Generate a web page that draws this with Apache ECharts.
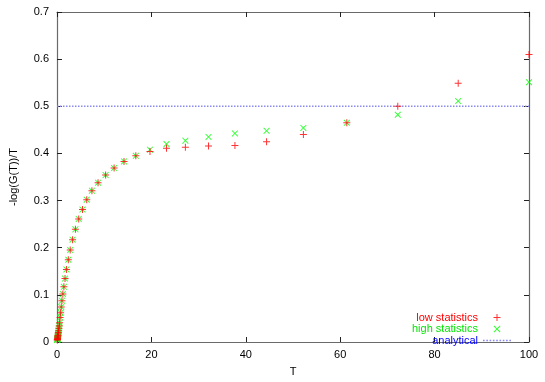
<!DOCTYPE html>
<html><head><meta charset="utf-8">
<script src="https://cdn.jsdelivr.net/npm/echarts@6/dist/echarts.min.js"></script>
<style>html,body{margin:0;padding:0;background:#fff}#c{width:545px;height:382px}</style>
</head><body><div id="c"></div>
<script>
// Data
const T = [100, 85, 72.2, 61.4, 52.2, 44.4, 37.7, 32.1, 27.2, 23.2, 19.7, 16.7, 14.2, 12.1, 10.3, 8.7, 7.4, 6.3, 5.4, 4.6, 3.9, 3.3, 2.8, 2.4, 2.0, 1.7, 1.46, 1.24, 1.05, 0.9, 0.76, 0.65, 0.55, 0.47, 0.40, 0.34, 0.29, 0.24, 0.21, 0.18, 0.15, 0.13, 0.11, 0.09, 0.08, 0.07];
const lowStat = [0.610, 0.549, 0.500, 0.465, 0.440, 0.425, 0.417, 0.4155, 0.413, 0.411, 0.404, 0.395, 0.383, 0.369, 0.354, 0.338, 0.321, 0.302, 0.281, 0.261, 0.239, 0.217, 0.195, 0.1745, 0.154, 0.1346, 0.117, 0.102, 0.0876, 0.0745, 0.062, 0.052, 0.041, 0.034, 0.029, 0.024, 0.020, 0.017, 0.014, 0.012, 0.010, 0.008, 0.007, 0.006, 0.005, 0.004];
const highStat = [0.551, 0.511, 0.482, 0.465, 0.454, 0.448, 0.4425, 0.435, 0.427, 0.420, 0.408, 0.395, 0.383, 0.369, 0.354, 0.338, 0.321, 0.302, 0.281, 0.261, 0.239, 0.217, 0.195, 0.1745, 0.154, 0.1346, 0.117, 0.102, 0.0876, 0.0745, 0.062, 0.052, 0.041, 0.034, 0.029, 0.024, 0.020, 0.017, 0.014, 0.012, 0.010, 0.008, 0.007, 0.006, 0.005, 0.004];
const analyticalValue = 0.5;
const xTicks = [0, 20, 40, 60, 80, 100];
const yTicks = [0, 0.1, 0.2, 0.3, 0.4, 0.5, 0.6, 0.7];
const seriesNames = ['low statistics', 'high statistics', 'analytical'];

const plusPath = 'path://M3,0H4V3H7V4H4V7H3V4H0V3H3Z';
const crossPath = 'path://M0,0.7L0.7,0L3.5,2.8L6.3,0L7,0.7L4.2,3.5L7,6.3L6.3,7L3.5,4.2L0.7,7L0,6.3L2.8,3.5Z';
const dotsPath = 'path://M0,0H1.5V1.5H0ZM3,0H4.5V1.5H3ZM6,0H7.5V1.5H6ZM9,0H10.5V1.5H9ZM12,0H13.5V1.5H12ZM15,0H16.5V1.5H15ZM18,0H19.5V1.5H18ZM21,0H22.5V1.5H21ZM24,0H25.5V1.5H24Z';
const font = 'Liberation Sans, Arial, Helvetica, sans-serif';
const axisCol = '#6a6a6a';

const xMin = xTicks[0], xMax = xTicks[xTicks.length - 1], xInt = xTicks[1] - xTicks[0];
const yMin = yTicks[0], yMax = yTicks[yTicks.length - 1], yInt = 0.1;

function xAx(pos, show) {
  return {
    type: 'value', position: pos, min: xMin, max: xMax, interval: xInt,
    name: show ? 'T' : '', nameLocation: 'middle', nameGap: 24,
    nameTextStyle: { color: '#000', fontSize: 11, fontFamily: font },
    axisLine: { show: true, onZero: false, lineStyle: { color: axisCol, width: 1.2 } },
    axisTick: { show: true, inside: true, length: 5, lineStyle: { color: '#222' } },
    axisLabel: { show: show, color: '#000', fontSize: 11, fontFamily: font, margin: 7 },
    splitLine: { show: false }
  };
}
function yAx(pos, show) {
  return {
    type: 'value', position: pos, min: yMin, max: yMax, interval: yInt,
    name: show ? '-log(G(T))/T' : '', nameLocation: 'middle', nameGap: 38,
    nameTextStyle: { color: '#000', fontSize: 11, fontFamily: font },
    axisLine: { show: true, onZero: false, lineStyle: { color: axisCol, width: 1.2 } },
    axisTick: { show: true, inside: true, length: 5, lineStyle: { color: '#222' } },
    axisLabel: { show: show, color: '#000', fontSize: 11, fontFamily: font, margin: 8,
      formatter: v => (v === 0 ? '0' : v.toFixed(1)) },
    splitLine: { show: false }
  };
}

const chart = echarts.init(document.getElementById('c'), null, { renderer: 'canvas' });
chart.setOption({
  animation: false,
  backgroundColor: '#fff',
  grid: { left: 53, right: 16, top: 12, bottom: 32.5 },
  xAxis: [xAx('bottom', true), xAx('top', false)],
  yAxis: [yAx('left', true), yAx('right', false)],
  legend: {
    orient: 'vertical', right: 29, top: 307, align: 'right',
    itemWidth: 28, itemHeight: 7, itemGap: 0.5,
    textStyle: { fontSize: 11, fontFamily: font },
    data: [
      { name: seriesNames[0], icon: plusPath, textStyle: { color: '#ff0000' } },
      { name: seriesNames[1], icon: crossPath, textStyle: { color: '#00e600' } },
      { name: seriesNames[2], icon: dotsPath, textStyle: { color: '#0000ff' } }
    ]
  },
  series: [
    {
      name: seriesNames[0], type: 'scatter', symbol: plusPath, symbolSize: 7,
      itemStyle: { color: '#ff0000' }, z: 3,
      data: T.map((t, i) => [t, lowStat[i]])
    },
    {
      name: seriesNames[1], type: 'scatter', symbol: crossPath, symbolSize: 6.5,
      itemStyle: { color: '#00ff00' }, z: 2,
      data: T.map((t, i) => [t, highStat[i]])
    },
    {
      name: seriesNames[2], type: 'line', showSymbol: false, symbol: 'none',
      itemStyle: { color: '#8a8af0' },
      lineStyle: { color: '#8a8af0', width: 1.5, type: [1.5, 1.5] },
      data: [[xMin, analyticalValue], [xMax, analyticalValue]]
    }
  ]
});
</script>
</body></html>
